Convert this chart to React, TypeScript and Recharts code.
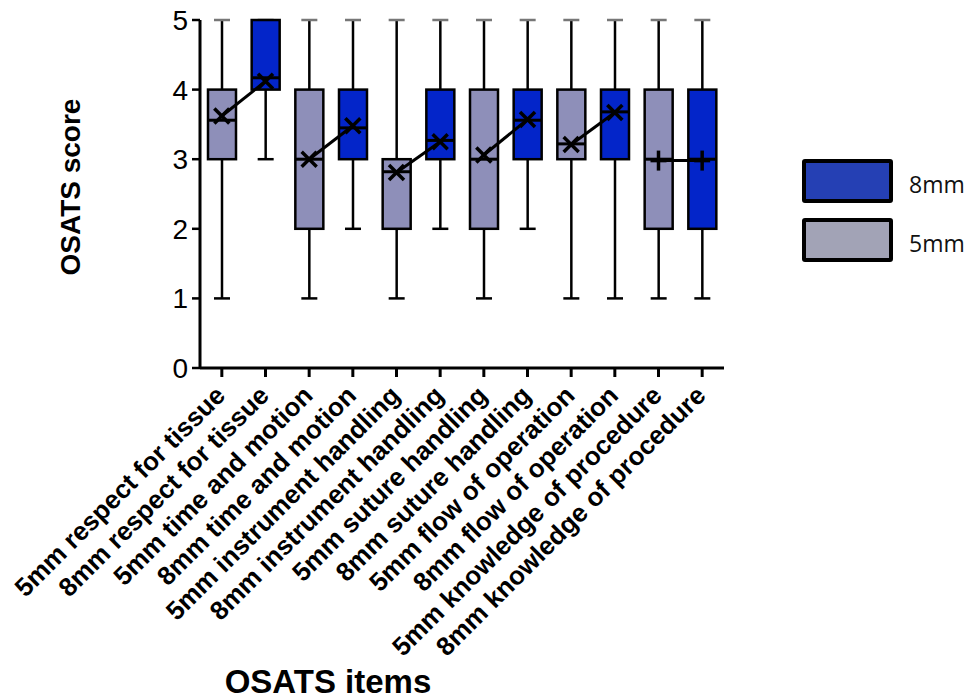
import {
  ComposedChart,
  Bar,
  Line,
  XAxis,
  YAxis,
  Label,
} from 'recharts'

const CATEGORIES = [
  '5mm respect for tissue',
  '8mm respect for tissue',
  '5mm time and motion',
  '8mm time and motion',
  '5mm instrument handling',
  '8mm instrument handling',
  '5mm suture handling',
  '8mm suture handling',
  '5mm flow of operation',
  '8mm flow of operation',
  '5mm knowledge of procedure',
  '8mm knowledge of procedure',
]
const SIZES = ['5mm', '8mm', '5mm', '8mm', '5mm', '8mm', '5mm', '8mm', '5mm', '8mm', '5mm', '8mm']
const MINS = [1, 3, 1, 2, 1, 2, 1, 2, 1, 1, 1, 1]
const Q1S = [3, 4, 2, 3, 2, 3, 2, 3, 3, 3, 2, 2]
const MEDIANS = [3.56, 4.17, 3, 3.45, 2.82, 3.27, 3, 3.56, 3.22, 3.68, 3, 3]
const Q3S = [4, 5, 4, 4, 3, 4, 4, 4, 4, 4, 4, 4]
const MAXS = [5, 5, 5, 5, 5, 5, 5, 5, 5, 5, 5, 5]
const MEANS = [3.62, 4.12, 3.0, 3.48, 2.81, 3.25, 3.06, 3.57, 3.21, 3.67, 2.98, 2.98]
const MARKERS = ['x', 'x', 'x', 'x', 'x', 'x', 'x', 'x', 'x', 'x', '+', '+']
const Y_TICKS = [0, 1, 2, 3, 4, 5]
const PAIRS = [0, 1, 2, 3, 4, 5]
const LEGEND_ITEMS = [
  { name: '8mm', color: '#2540b4' },
  { name: '5mm', color: '#a2a3b6' },
]

const BOX_COLORS: Record<string, string> = { '5mm': '#8e8fb9', '8mm': '#0325c9' }

const data = CATEGORIES.map((name, i) => {
  const row: Record<string, string | number> = {
    name,
    size: SIZES[i],
    min: MINS[i],
    q1: Q1S[i],
    median: MEDIANS[i],
    q3: Q3S[i],
    max: MAXS[i],
    marker: MARKERS[i],
    base: Q1S[i],
    box: Q3S[i] - Q1S[i],
  }
  row[`pair${Math.floor(i / 2)}`] = MEANS[i]
  return row
})

const FONT = 'Arial, "Liberation Sans", sans-serif'

function BoxShape(props: any) {
  const { x, y, width, height, payload } = props
  const perUnit = height / (payload.q3 - payload.q1)
  const toY = (v: number) => y + height - (v - payload.q1) * perUnit
  const cx = x + width / 2
  const yMax = toY(payload.max)
  const yMin = toY(payload.min)
  const yMed = toY(payload.median)
  return (
    <g>
      <line x1={cx} x2={cx} y1={yMax} y2={y} stroke="#000" strokeWidth={2.5} />
      <line x1={cx} x2={cx} y1={y + height} y2={yMin} stroke="#000" strokeWidth={2.5} />
      <line x1={cx - 8} x2={cx + 8} y1={yMax} y2={yMax} stroke="#777" strokeWidth={2.5} />
      <line x1={cx - 8} x2={cx + 8} y1={yMin} y2={yMin} stroke="#000" strokeWidth={2.5} />
      <rect x={x} y={y} width={width} height={height} fill={BOX_COLORS[payload.size]} stroke="#000" strokeWidth={2.5} />
      <line x1={x} x2={x + width} y1={yMed} y2={yMed} stroke="#000" strokeWidth={3} />
    </g>
  )
}

// mean marker: an x for most items, a + for the knowledge pair
function renderMean(props: any) {
  const { cx, cy, payload, index } = props
  if (cx == null || cy == null || Number.isNaN(cy)) return <g key={`e${index}`} />
  if (payload.marker === '+') {
    return (
      <g key={`m${index}`}>
        <line x1={cx} x2={cx} y1={cy - 10} y2={cy + 10} stroke="#000" strokeWidth={3.5} />
        <line x1={cx - 8} x2={cx + 8} y1={cy} y2={cy} stroke="#000" strokeWidth={3.5} />
      </g>
    )
  }
  const s = 7.5
  return (
    <g key={`m${index}`}>
      <line x1={cx - s} x2={cx + s} y1={cy - s} y2={cy + s} stroke="#000" strokeWidth={3.5} />
      <line x1={cx - s} x2={cx + s} y1={cy + s} y2={cy - s} stroke="#000" strokeWidth={3.5} />
    </g>
  )
}

function CategoryTick({ x, y, payload }: any) {
  return (
    <g transform={`translate(${x + 5},${y + 18})`}>
      <text
        textAnchor="end"
        transform="rotate(-45)"
        fontSize={26}
        fontWeight="bold"
        fontFamily={FONT}
        fill="#000"
      >
        {payload.value}
      </text>
    </g>
  )
}

function SizeLegend() {
  return (
    <div
      style={{
        position: 'absolute',
        left: 802,
        top: 159,
        fontFamily: '"Open Sans", sans-serif',
        fontSize: 23,
        color: '#111',
      }}
    >
      {LEGEND_ITEMS.map(item => (
        <div key={item.name} style={{ display: 'flex', alignItems: 'center', marginBottom: 15 }}>
          <div
            style={{
              width: 83,
              height: 36,
              background: item.color,
              border: '4px solid #000',
              borderRadius: 3,
            }}
          />
          <span style={{ marginLeft: 16, marginTop: 6 }}>{item.name}</span>
        </div>
      ))}
    </div>
  )
}

export default function App() {
  return (
    <div style={{ position: 'absolute', left: 0, top: 0, width: 969, height: 699, background: '#fff' }}>
      <ComposedChart
        width={969}
        height={699}
        data={data}
        margin={{ top: 20, right: 245, left: 0, bottom: 0 }}
      >
        <XAxis
          dataKey="name"
          interval={0}
          height={331}
          tick={<CategoryTick />}
          tickSize={9}
          axisLine={{ stroke: '#000', strokeWidth: 3 }}
          tickLine={{ stroke: '#000', strokeWidth: 3 }}
        >
          <Label
            content={() => (
              <text x={328} y={693} textAnchor="middle" fontSize={33} fontWeight="bold" fontFamily={FONT} fill="#000">
                OSATS items
              </text>
            )}
          />
        </XAxis>
        <YAxis
          width={200}
          domain={[0, 5]}
          ticks={Y_TICKS}
          interval={0}
          tickSize={8}
          tickMargin={4}
          tick={{ fill: '#000', fontSize: 28, fontFamily: FONT }}
          axisLine={{ stroke: '#000', strokeWidth: 3 }}
          tickLine={{ stroke: '#000', strokeWidth: 2.5 }}
        >
          <Label
            content={({ viewBox }: any) => {
              const cx = 70
              const cy = viewBox.y + 167
              return (
                <text
                  x={cx}
                  y={cy}
                  transform={`rotate(-90, ${cx}, ${cy})`}
                  textAnchor="middle"
                  dominantBaseline="central"
                  fontSize={28}
                  fontWeight="bold"
                  fontFamily={FONT}
                  fill="#000"
                >
                  OSATS score
                </text>
              )
            }}
          />
        </YAxis>
        <Bar dataKey="base" stackId="box" fill="transparent" barSize={28} isAnimationActive={false} legendType="none" />
        <Bar dataKey="box" stackId="box" barSize={28} shape={<BoxShape />} isAnimationActive={false} legendType="none" />
        {PAIRS.map(p => (
          <Line
            key={p}
            dataKey={`pair${p}`}
            stroke="#000"
            strokeWidth={3}
            dot={renderMean}
            activeDot={false}
            connectNulls={false}
            isAnimationActive={false}
            legendType="none"
          />
        ))}
      </ComposedChart>
      <SizeLegend />
    </div>
  )
}
